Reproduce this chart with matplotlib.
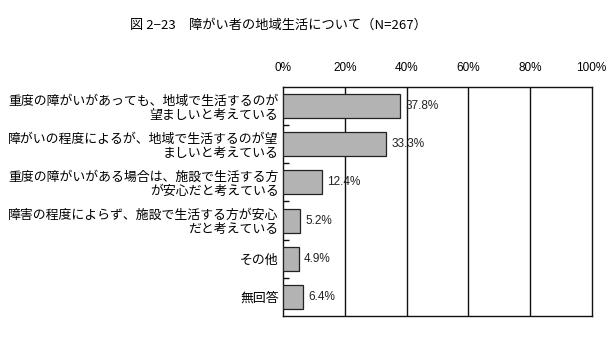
import numpy as np
import matplotlib
matplotlib.use("Agg")
import matplotlib.pyplot as plt
from matplotlib.ticker import FixedLocator

plt.rcParams["font.family"] = ["Noto Sans CJK JP", "DejaVu Sans"]

# -----------------------------------------------------------------------------
# データ
# -----------------------------------------------------------------------------
title = "図 2−23　障がい者の地域生活について（N=267）"
categories = [
    "重度の障がいがあっても、地域で生活するのが\n望ましいと考えている",
    "障がいの程度によるが、地域で生活するのが望\nましいと考えている",
    "重度の障がいがある場合は、施設で生活する方\nが安心だと考えている",
    "障害の程度によらず、施設で生活する方が安心\nだと考えている",
    "その他",
    "無回答",
]
values = [37.8, 33.3, 12.4, 5.2, 4.9, 6.4]
xticks = [0, 20, 40, 60, 80, 100]
xtick_labels = ["0%", "20%", "40%", "60%", "80%", "100%"]

# -----------------------------------------------------------------------------
# 描画
# -----------------------------------------------------------------------------
fig = plt.figure(figsize=(6.09, 3.37), dpi=100)
ax = fig.add_axes([0.4655, 0.0623, 0.5058, 0.6797])

y = np.arange(len(categories))
ax.barh(y, values, height=0.63, color="#b3b3b3", edgecolor="#222222", linewidth=0.9, zorder=3)

for yi, v in zip(y, values):
    ax.text(v + 1.8, yi, f"{v:.1f}%", va="center", ha="left", fontsize=8.5,
            family=["Liberation Sans", "DejaVu Sans"], color="#222222", zorder=4)

ax.set_xlim(0, 100)
ax.set_ylim(len(categories) - 0.5, -0.5)

ax.set_xticks(xticks)
ax.set_xticklabels(xtick_labels, fontsize=8.5, family=["Liberation Sans", "DejaVu Sans"])
ax.xaxis.tick_top()
ax.tick_params(axis="x", length=0, pad=9)
for gx in xticks[1:-1]:
    ax.axvline(gx, color="#111111", lw=1.0, zorder=2)

ax.set_yticks(y)
ax.set_yticklabels(categories, fontsize=9.3, linespacing=1.1)
ax.tick_params(axis="y", length=0, pad=3.5)
ax.yaxis.set_minor_locator(FixedLocator(np.arange(0.5, len(categories) - 0.5, 1.0)))
ax.tick_params(axis="y", which="minor", direction="in", length=4, width=1.0, color="#111111")

for s in ax.spines.values():
    s.set_color("#111111")
    s.set_linewidth(1.0)

fig.text(0.4565, 0.925, title, ha="center", va="center", fontsize=9.5)

fig.savefig("out.png", dpi=100)
